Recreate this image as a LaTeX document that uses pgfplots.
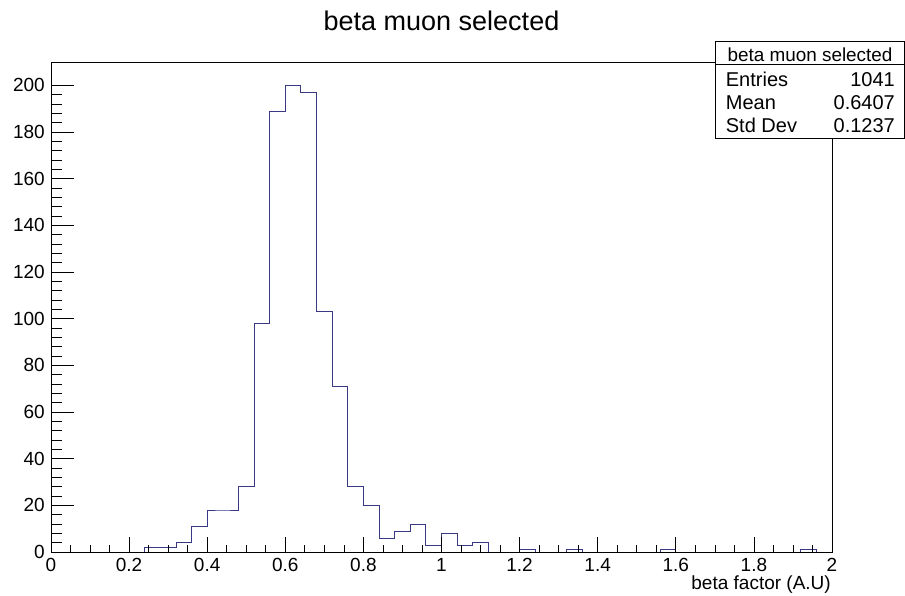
\documentclass[border=0pt]{standalone}
\usepackage{fontspec}
\setmainfont{Liberation Sans}
\usepackage{pgfplots}
\pgfplotsset{compat=1.18}
\definecolor{histblue}{rgb}{0.22,0.22,0.52}
\begin{document}
\begin{tikzpicture}[x=1pt,y=1pt]
\useasboundingbox (0,0) rectangle (905,596);
\begin{axis}[
  at={(51pt,44pt)}, anchor=south west,
  width=781pt, height=490pt, scale only axis,
  xmin=0, xmax=2, ymin=0, ymax=210,
  xtick={0,0.2,...,2.01}, ytick={0,20,...,200},
  minor x tick num=3, minor y tick num=4,
  xtick pos=bottom, ytick pos=left, tick align=inside,
  xtick style={/pgfplots/major tick length=14.7pt,/pgfplots/minor tick length=7.3pt,line width=0.7pt,black},
  ytick style={/pgfplots/major tick length=23.4pt,/pgfplots/minor tick length=11.5pt,line width=0.7pt,black},
  axis line style={line width=0.8pt,black},
  axis on top,
  /pgf/number format/assume math mode=true,
  xticklabel style={font=\fontsize{19}{22}\selectfont, anchor=north, inner sep=0pt, yshift=-6pt},
  yticklabel style={font=\fontsize{19}{22}\selectfont, anchor=east, inner sep=0pt, xshift=-6pt},
  xticklabel={\pgfmathprintnumber[fixed,precision=1]{\tick}},
  yticklabel={\pgfmathprintnumber[fixed,precision=0]{\tick}},
]
\addplot[const plot, color=histblue, line width=0.9pt] coordinates {
(0.00,0) (0.04,0) (0.08,0) (0.12,0) (0.16,0) (0.20,0)
(0.24,2) (0.28,2) (0.32,4) (0.36,11) (0.40,18) (0.44,18) (0.48,28)
(0.52,98) (0.56,189) (0.60,200) (0.64,197) (0.68,103) (0.72,71)
(0.76,28) (0.80,20) (0.84,6) (0.88,9) (0.92,12) (0.96,3) (1.00,8)
(1.04,3) (1.08,4) (1.12,0) (1.16,0) (1.20,1) (1.24,0) (1.28,0)
(1.32,1) (1.36,0) (1.40,0) (1.44,0) (1.48,0) (1.52,0) (1.56,1)
(1.60,0) (1.64,0) (1.68,0) (1.72,0) (1.76,0) (1.80,0) (1.84,0)
(1.88,0) (1.92,1) (1.96,0) (2.00,0)
};
\end{axis}
% title
\node[anchor=base, inner sep=0pt, font=\fontsize{27}{32}\selectfont] at (441.5,565) {beta muon selected};
% x label
\node[anchor=base east, inner sep=0pt, font=\fontsize{19}{23}\selectfont] at (831,6) {beta factor (A.U)};
% stats box
\draw[fill=white, line width=0.8pt] (715,554.3) rectangle (904.5,457.7);
\draw[line width=0.8pt] (715,531.7) -- (904.5,531.7);
\node[anchor=base, inner sep=0pt, font=\fontsize{18.9}{22}\selectfont] at (810,534.6) {beta muon selected};
\begin{scope}[every node/.style={inner sep=0pt, font=\fontsize{20}{24}\selectfont}]
\node[anchor=base west] at (725.7,509.3) {Entries};
\node[anchor=base east] at (895,509.3) {1041};
\node[anchor=base west] at (725.7,486) {Mean};
\node[anchor=base east] at (895,486) {0.6407};
\node[anchor=base west] at (725.7,463.3) {Std Dev};
\node[anchor=base east] at (895,463.3) {0.1237};
\end{scope}
\end{tikzpicture}
\end{document}
